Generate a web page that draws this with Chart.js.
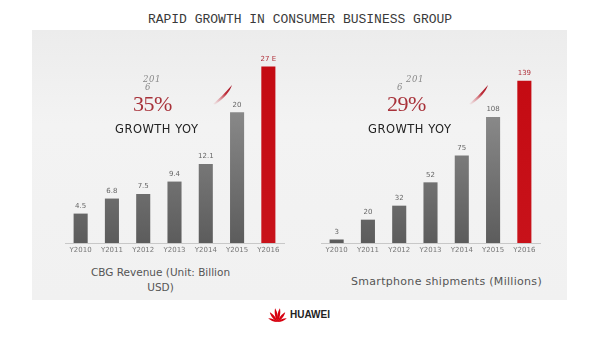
<!DOCTYPE html>
<html>
<head>
<meta charset="utf-8">
<script src="https://cdn.jsdelivr.net/npm/chart.js@4/dist/chart.umd.min.js"></script>
<style>
  html, body { margin: 0; padding: 0; background: #fff; }
  #page { position: relative; width: 600px; height: 337px; overflow: hidden; background: #fff; font-family: "DejaVu Sans", sans-serif; }
  #panel { position: absolute; left: 32px; top: 30px; width: 535px; height: 270px;
           background: linear-gradient(180deg, #ececec 0%, #f3f3f3 35%, #f1f1f1 100%); }
  .abs { position: absolute; white-space: nowrap; }
  #title { left: 0; width: 600px; top: 12px; text-align: center; font-family: "Liberation Mono", monospace;
           font-size: 13px; letter-spacing: 0px; color: #3a3a3a; }
  .yr { font-family: "DejaVu Serif", serif; font-style: italic; font-size: 8.5px; color: #888; letter-spacing: 0.6px; }
  .pct { font-family: "Liberation Serif", serif; font-size: 22px; color: #a8323a; letter-spacing: -0.5px; }
  .gy { font-family: "DejaVu Sans", sans-serif; font-size: 11.5px; color: #222; letter-spacing: 0.5px; }
  .cap { font-family: "DejaVu Sans", sans-serif; color: #555; text-align: center; line-height: 15px; }
  canvas { position: absolute; }
</style>
</head>
<body>
<div id="page">
  <div id="panel"></div>
  <div id="title" class="abs">RAPID GROWTH IN CONSUMER BUSINESS GROUP</div>

  <canvas id="revChart" width="236" height="209" style="left:57px; top:50px; width:236px; height:209px;"></canvas>
  <canvas id="shipChart" width="236" height="209" style="left:313px; top:50px; width:236px; height:209px;"></canvas>

  <!-- growth callouts -->
  <div class="abs yr" style="left:143px; top:74px;">201</div>
  <div class="abs yr" style="left:145px; top:82px;">6</div>
  <div class="abs pct" style="left:133px; top:91px;">35%</div>
  <div class="abs gy" style="left:115px; top:122px;">GROWTH YOY</div>

  <div class="abs yr" style="left:406px; top:74px;">201</div>
  <div class="abs yr" style="left:397px; top:82px;">6</div>
  <div class="abs pct" style="left:387px; top:91px;">29%</div>
  <div class="abs gy" style="left:368px; top:122px;">GROWTH YOY</div>

  <!-- red brush swooshes -->
  <svg class="abs" style="left:211px; top:83px;" width="24" height="22" viewBox="0 0 24 22">
    <defs><linearGradient id="sw1" x1="0" y1="1" x2="1" y2="0">
      <stop offset="0" stop-color="#e6b0b6" stop-opacity="0.15"/><stop offset="0.6" stop-color="#c0303c"/><stop offset="1" stop-color="#a01020"/></linearGradient></defs>
    <path d="M2 21 C7 17, 13 11, 21 2 C19 8, 14 15, 4 21.5 Z" fill="url(#sw1)"/>
  </svg>
  <svg class="abs" style="left:467px; top:83px;" width="24" height="22" viewBox="0 0 24 22">
    <defs><linearGradient id="sw2" x1="0" y1="1" x2="1" y2="0">
      <stop offset="0" stop-color="#e6b0b6" stop-opacity="0.15"/><stop offset="0.6" stop-color="#c0303c"/><stop offset="1" stop-color="#a01020"/></linearGradient></defs>
    <path d="M2 21 C7 17, 13 11, 21 2 C19 8, 14 15, 4 21.5 Z" fill="url(#sw2)"/>
  </svg>

  <!-- captions -->
  <div class="abs cap" style="left:80px; width:161px; top:265px; font-size:10.5px;">CBG Revenue (Unit: Billion<br>USD)</div>
  <div class="abs cap" style="left:346px; width:201px; top:274px; font-size:11px; letter-spacing:0.3px;">Smartphone shipments (Millions)</div>

  <!-- brand mark -->
  <svg class="abs" style="left:267px; top:307px;" width="21" height="16" viewBox="0 0 21 16">
    <g fill="#d7000f" transform="translate(10.5,15)">
      <path d="M0 0 C-1.7 -4,-1.7 -10,0 -14 C1.7 -10,1.7 -4,0 0 Z" transform="rotate(-10)"/>
      <path d="M0 0 C-1.7 -4,-1.7 -10,0 -14 C1.7 -10,1.7 -4,0 0 Z" transform="rotate(10)"/>
      <path d="M0 0 C-1.7 -4,-1.7 -9,0 -12.5 C1.7 -9,1.7 -4,0 0 Z" transform="rotate(-38)"/>
      <path d="M0 0 C-1.7 -4,-1.7 -9,0 -12.5 C1.7 -9,1.7 -4,0 0 Z" transform="rotate(38)"/>
      <path d="M0 0 C-1.4 -3,-1.4 -7,0 -10 C1.4 -7,1.4 -3,0 0 Z" transform="rotate(-68)"/>
      <path d="M0 0 C-1.4 -3,-1.4 -7,0 -10 C1.4 -7,1.4 -3,0 0 Z" transform="rotate(68)"/>
    </g>
  </svg>
  <div class="abs" style="left:290px; top:309px; font-family:'Liberation Sans', sans-serif; font-weight:bold; font-size:10px; color:#222;">HUAWEI</div>
</div>

<script>
// Fiscal years shown under both bar charts
const years = ['Y2010', 'Y2011', 'Y2012', 'Y2013', 'Y2014', 'Y2015', 'Y2016'];
// CBG revenue, billion USD (2016 is an estimate)
const revenue = [4.5, 6.8, 7.5, 9.4, 12.1, 20, 27];
const revenueLabels = ['4.5', '6.8', '7.5', '9.4', '12.1', '20', '27 E'];
// Smartphone shipments, millions of units
const shipments = [3, 20, 32, 52, 75, 108, 139];
const shipmentLabels = ['3', '20', '32', '52', '75', '108', '139'];

function barFill(ctx) {
  const chart = ctx.chart;
  const area = chart.chartArea;
  if (!area) return '#707070';
  const last = ctx.dataIndex === ctx.dataset.data.length - 1;
  const g = chart.ctx.createLinearGradient(0, area.top, 0, area.bottom);
  if (last) {
    g.addColorStop(0, '#c40a12');
    g.addColorStop(1, '#c8121a');
  } else {
    g.addColorStop(0, '#9a9a9a');
    g.addColorStop(1, '#5c5c5c');
  }
  return g;
}

// Writes each bar's value label just above the bar
const valueLabels = {
  id: 'valueLabels',
  afterDatasetsDraw(chart, args, opts) {
    const c = chart.ctx;
    const meta = chart.getDatasetMeta(0);
    c.save();
    c.font = '7px "DejaVu Sans", sans-serif';
    c.textAlign = 'center';
    c.textBaseline = 'bottom';
    meta.data.forEach((bar, i) => {
      const last = i === meta.data.length - 1;
      c.fillStyle = last ? '#b0303a' : '#666';
      c.fillText(opts.labels[i], bar.x, bar.y - 4);
    });
    c.restore();
  }
};

function makeChart(id, values, labels, yMax, padTop) {
  return new Chart(document.getElementById(id), {
    type: 'bar',
    data: {
      labels: years,
      datasets: [{
        data: values,
        backgroundColor: barFill,
        borderWidth: 0,
        barPercentage: 0.45,
        categoryPercentage: 1
      }]
    },
    options: {
      responsive: false,
      animation: false,
      layout: { padding: { top: padTop, left: 8, right: 9, bottom: 0 } },
      plugins: {
        legend: { display: false },
        tooltip: { enabled: false },
        valueLabels: { labels: labels }
      },
      scales: {
        x: {
          grid: { display: false, drawTicks: false },
          border: { display: true, color: '#c8c8c8', width: 1 },
          ticks: { color: '#777', font: { size: 7, family: '"DejaVu Sans", sans-serif' }, padding: 3, maxRotation: 0, autoSkip: false },
          afterFit(scale) { scale.height = 16; }
        },
        y: { display: false, min: 0, max: yMax }
      }
    },
    plugins: [valueLabels]
  });
}

makeChart('revChart', revenue, revenueLabels, 28, 10);
makeChart('shipChart', shipments, shipmentLabels, 150, 18);
</script>
</body>
</html>
